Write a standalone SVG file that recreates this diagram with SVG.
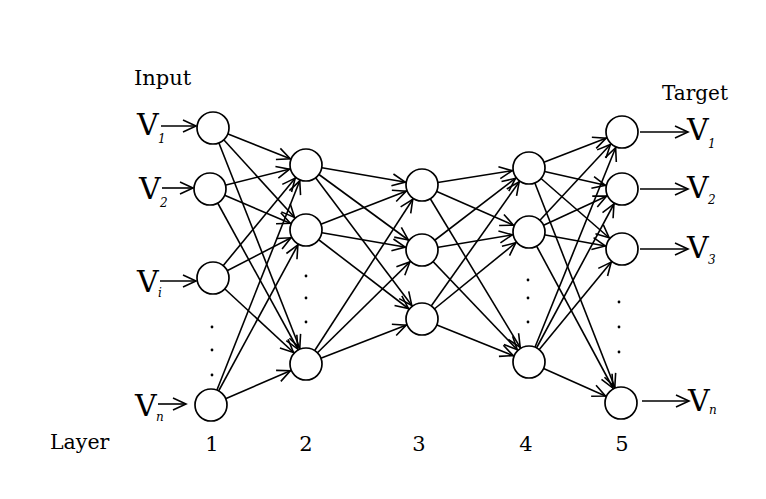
<svg xmlns="http://www.w3.org/2000/svg" width="766" height="499" viewBox="0 0 766 499">
<style>
.n{fill:#fff;stroke:#000;stroke-width:1.7}
.c{stroke:#000;stroke-width:1.6;fill:none;marker-end:url(#ah)}
.io{stroke:#000;stroke-width:1.6;fill:none;marker-end:url(#at)}
.t{font-family:"DejaVu Serif","Liberation Serif",serif;fill:#000}
.v{font-family:"DejaVu Serif","Liberation Serif",serif;font-size:30px;fill:#000}
.s{font-family:"DejaVu Serif","Liberation Serif",serif;font-size:12px;font-style:italic;fill:#000}
.d{fill:#000}
</style>
<defs>
<marker id="ah" markerUnits="userSpaceOnUse" orient="auto" refX="0" refY="0" markerWidth="60" markerHeight="60" viewBox="-40 -20 60 40" overflow="visible">
<path d="M-30,-6 L-17,0 L-30,6" fill="none" stroke="#000" stroke-width="1.6"/>
</marker>
<marker id="at" markerUnits="userSpaceOnUse" orient="auto" refX="0" refY="0" markerWidth="40" markerHeight="40" viewBox="-20 -20 40 40" overflow="visible">
<path d="M-13,-6 L0,0 L-13,6" fill="none" stroke="#000" stroke-width="1.6"/>
</marker>
</defs>
<rect width="766" height="499" fill="#fff"/>
<g id="connectors">
<line class="c" x1="213" y1="128" x2="306" y2="165"/>
<line class="c" x1="213" y1="128" x2="306" y2="230"/>
<line class="c" x1="213" y1="128" x2="306" y2="364"/>
<line class="c" x1="210" y1="189" x2="306" y2="165"/>
<line class="c" x1="210" y1="189" x2="306" y2="230"/>
<line class="c" x1="210" y1="189" x2="306" y2="364"/>
<line class="c" x1="213" y1="278" x2="306" y2="165"/>
<line class="c" x1="213" y1="278" x2="306" y2="230"/>
<line class="c" x1="213" y1="278" x2="306" y2="364"/>
<line class="c" x1="211" y1="405" x2="306" y2="165"/>
<line class="c" x1="211" y1="405" x2="306" y2="230"/>
<line class="c" x1="211" y1="405" x2="306" y2="364"/>
<line class="c" x1="306" y1="165" x2="422" y2="185"/>
<line class="c" x1="306" y1="165" x2="422" y2="250"/>
<line class="c" x1="306" y1="165" x2="422" y2="319"/>
<line class="c" x1="306" y1="230" x2="422" y2="185"/>
<line class="c" x1="306" y1="230" x2="422" y2="250"/>
<line class="c" x1="306" y1="230" x2="422" y2="319"/>
<line class="c" x1="306" y1="364" x2="422" y2="185"/>
<line class="c" x1="306" y1="364" x2="422" y2="250"/>
<line class="c" x1="306" y1="364" x2="422" y2="319"/>
<line class="c" x1="422" y1="185" x2="529" y2="168"/>
<line class="c" x1="422" y1="185" x2="529" y2="232"/>
<line class="c" x1="422" y1="185" x2="529" y2="362"/>
<line class="c" x1="422" y1="250" x2="529" y2="168"/>
<line class="c" x1="422" y1="250" x2="529" y2="232"/>
<line class="c" x1="422" y1="250" x2="529" y2="362"/>
<line class="c" x1="422" y1="319" x2="529" y2="168"/>
<line class="c" x1="422" y1="319" x2="529" y2="232"/>
<line class="c" x1="422" y1="319" x2="529" y2="362"/>
<line class="c" x1="529" y1="168" x2="622" y2="132"/>
<line class="c" x1="529" y1="168" x2="622" y2="189"/>
<line class="c" x1="529" y1="168" x2="622" y2="249"/>
<line class="c" x1="529" y1="168" x2="621" y2="403"/>
<line class="c" x1="529" y1="232" x2="622" y2="132"/>
<line class="c" x1="529" y1="232" x2="622" y2="189"/>
<line class="c" x1="529" y1="232" x2="622" y2="249"/>
<line class="c" x1="529" y1="232" x2="621" y2="403"/>
<line class="c" x1="529" y1="362" x2="622" y2="132"/>
<line class="c" x1="529" y1="362" x2="622" y2="189"/>
<line class="c" x1="529" y1="362" x2="622" y2="249"/>
<line class="c" x1="529" y1="362" x2="621" y2="403"/>
<line class="io" x1="161" y1="126" x2="196" y2="126"/>
<line class="io" x1="162" y1="188" x2="193" y2="188"/>
<line class="io" x1="160" y1="281" x2="196" y2="281"/>
<line class="io" x1="158" y1="404" x2="186" y2="404"/>
<line class="io" x1="640" y1="132" x2="688" y2="132"/>
<line class="io" x1="640" y1="189" x2="688" y2="189"/>
<line class="io" x1="640" y1="249" x2="688" y2="249"/>
<line class="io" x1="642" y1="401" x2="689" y2="401"/>
</g>
<g id="layer1">
<circle id="n1-1" class="n" cx="213" cy="128" r="16"/>
<circle id="n1-2" class="n" cx="210" cy="189" r="16"/>
<circle id="n1-i" class="n" cx="213" cy="278" r="16"/>
<circle id="n1-n" class="n" cx="211" cy="405" r="16"/>
<circle class="d" cx="212" cy="327" r="1.4"/>
<circle class="d" cx="212" cy="350" r="1.4"/>
<circle class="d" cx="212" cy="375" r="1.4"/>
</g>
<g id="layer2">
<circle id="n2-1" class="n" cx="306" cy="165" r="16"/>
<circle id="n2-2" class="n" cx="306" cy="230" r="16"/>
<circle id="n2-n" class="n" cx="306" cy="364" r="16"/>
<circle class="d" cx="306" cy="276" r="1.4"/>
<circle class="d" cx="306" cy="298" r="1.4"/>
<circle class="d" cx="306" cy="322" r="1.4"/>
</g>
<g id="layer3">
<circle id="n3-1" class="n" cx="422" cy="185" r="16"/>
<circle id="n3-2" class="n" cx="422" cy="250" r="16"/>
<circle id="n3-3" class="n" cx="422" cy="319" r="16"/>
</g>
<g id="layer4">
<circle id="n4-1" class="n" cx="529" cy="168" r="16"/>
<circle id="n4-2" class="n" cx="529" cy="232" r="16"/>
<circle id="n4-n" class="n" cx="529" cy="362" r="16"/>
<circle class="d" cx="528" cy="280" r="1.4"/>
<circle class="d" cx="528" cy="298" r="1.4"/>
<circle class="d" cx="528" cy="322" r="1.4"/>
</g>
<g id="layer5">
<circle id="n5-1" class="n" cx="622" cy="132" r="16"/>
<circle id="n5-2" class="n" cx="622" cy="189" r="16"/>
<circle id="n5-3" class="n" cx="622" cy="249" r="16"/>
<circle id="n5-n" class="n" cx="621" cy="403" r="16"/>
<circle class="d" cx="619" cy="302" r="1.4"/>
<circle class="d" cx="619" cy="327" r="1.4"/>
<circle class="d" cx="619" cy="352" r="1.4"/>
</g>
<g id="input-labels">
<text class="t" x="134" y="85" font-size="21">Input</text>
<text class="v" x="137" y="135">V</text><text class="s" x="158" y="143">1</text>
<text class="v" x="139" y="199">V</text><text class="s" x="160" y="207">2</text>
<text class="v" x="137" y="292">V</text><text class="s" x="158" y="297">i</text>
<text class="v" x="135" y="416">V</text><text class="s" x="156" y="421">n</text>
</g>
<g id="target-labels">
<text class="t" x="662" y="100" font-size="20">Target</text>
<text class="v" x="687" y="140">V</text><text class="s" x="708" y="148">1</text>
<text class="v" x="687" y="198">V</text><text class="s" x="708" y="204">2</text>
<text class="v" x="687" y="258">V</text><text class="s" x="708" y="264">3</text>
<text class="v" x="688" y="411">V</text><text class="s" x="709" y="414">n</text>
</g>
<g id="layer-labels">
<text class="t" x="50" y="449" font-size="20.5">Layer</text>
<text class="t" x="212" y="451" font-size="21" text-anchor="middle">1</text>
<text class="t" x="306" y="451" font-size="21" text-anchor="middle">2</text>
<text class="t" x="419" y="451" font-size="21" text-anchor="middle">3</text>
<text class="t" x="526" y="451" font-size="21" text-anchor="middle">4</text>
<text class="t" x="622" y="451" font-size="21" text-anchor="middle">5</text>
</g>
</svg>
